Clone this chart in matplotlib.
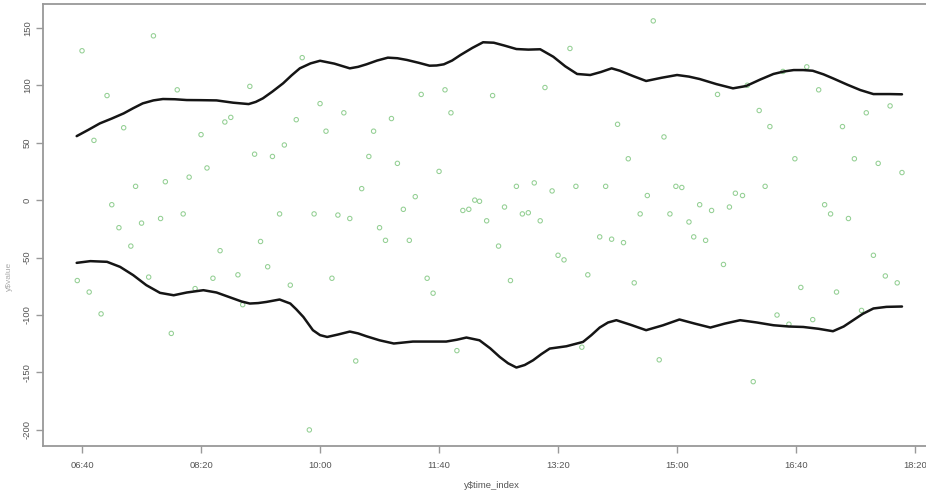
import matplotlib
matplotlib.use("Agg")
import matplotlib.pyplot as plt

# time in minutes since midnight, value
pt_time = [
    400, 460, 421, 480, 435, 410, 490, 470, 445, 425, 485, 466, 450, 431, 441, 456, 396, 406, 416, 475,
    585, 541, 600, 580, 525, 520, 605, 500, 570, 545, 560, 505, 566, 595, 550, 516, 556, 531, 510, 610,
    575, 495, 535, 591,
    705, 685, 620, 710, 660, 645, 641, 665, 700, 635, 680, 730, 734, 670, 720, 725, 615, 625, 650, 655,
    675, 690, 695, 715, 630,
    810, 789, 745, 850, 765, 780, 795, 815, 840, 755, 770, 775, 740, 785, 835, 845, 855, 750, 800, 805,
    825, 760, 820,
    880, 934, 969, 978, 889, 859, 899, 904, 875, 974, 949, 955, 919, 944, 929, 869, 894, 910, 914, 924,
    939, 864, 885, 964, 959,
    1009, 1019, 989, 1079, 1059, 1039, 999, 1049, 1069, 1089, 1024, 1029, 1044, 1065, 1075, 1085, 1004,
    1034, 984, 994, 1014, 1055,
]
pt_value = [
    130, 143, 91, 96, 63, 52, 20, 16, 12, -4, -12, -16, -20, -24, -40, -67, -70, -80, -99, -116,
    124, 99, 84, 70, 72, 68, 60, 57, 48, 40, 38, 28, -12, -12, -36, -44, -58, -65, -68, -68,
    -74, -77, -91, -200,
    96, 92, 76, 76, 71, 60, 38, 32, 25, 10, 3, 0, -1, -8, -9, -8, -13, -16, -24, -35,
    -35, -68, -81, -131, -140,
    132, 98, 91, 66, 12, 15, 8, 12, 12, -6, -12, -11, -18, -18, -32, -34, -37, -40, -48, -52,
    -65, -70, -128,
    156, 92, 78, 64, 55, 36, 12, 11, 4, 12, 6, 4, -4, -6, -9, -12, -12, -19, -32, -35,
    -56, -72, -139, -158, 100,
    116, 96, 112, 82, 76, 64, 36, 36, 32, 24, -4, -12, -16, -48, -66, -72, -76,
    -80, -100, -108, -104, -96,
]

# upper smooth band
up_time = [395.5, 405, 415, 425, 435, 443, 451, 460, 468, 478, 488, 500, 513, 527, 540, 546, 552,
           560, 569, 576, 583, 592, 600, 612, 625, 632, 639, 648, 657, 665, 673, 683, 692, 698,
           704, 711, 718, 728, 737, 746, 755, 765, 775, 785, 796, 806, 816, 827, 836, 845, 852,
           863, 874, 887, 900, 910, 919, 933, 947, 958, 970, 981, 990, 998, 1006, 1014, 1023,
           1031, 1043, 1054, 1065, 1079, 1089]
up_value = [55.7, 61, 66.8, 71, 75.5, 80, 84.2, 86.8, 88, 87.8, 87.1, 87, 86.8, 84.8, 83.6, 85.5,
            88.6, 94.5, 101.7, 108.5, 114.7, 119, 121.3, 118.8, 114.7, 116, 118.2, 121.5, 124,
            123.5, 122, 119.5, 117, 117.2, 118.2, 121.5, 126.3, 132.5, 137.4, 137, 134.5, 131.5,
            131, 131.3, 124.8, 116.5, 109.8, 108.9, 111.5, 114.7, 112.6, 108, 103.7, 106.5,
            108.9, 107.5, 105.4, 101, 97.3, 99.3, 105, 109.8, 112, 113.2, 113.2, 112.6, 109.5,
            106, 100.5, 95.8, 92.3, 92.3, 92.1]

# lower smooth band
lo_time = [395.5, 407, 421, 432, 443, 454, 465.5, 477, 488, 502, 513, 520, 527, 534, 541, 548, 555,
           566, 575, 580, 586, 594, 600, 606, 615, 625, 632, 639, 650, 662, 678, 692, 706, 715,
           723, 734, 743, 751, 758, 765, 772, 779, 786, 793, 807, 821, 828, 835, 842, 849, 861,
           874, 888, 902, 915, 928, 940, 953, 967, 981, 994, 1006, 1019, 1031, 1040, 1048, 1056,
           1065, 1076, 1089]
lo_value = [-54.6, -53.1, -53.7, -58.1, -65.3, -74, -80.7, -82.8, -80.4, -78.4, -80.4, -83, -85.6,
            -88.2, -90, -89.6, -88.6, -86.5, -90, -95, -101.7, -113.2, -117.5, -119.1, -117,
            -114.4, -116, -118.5, -122, -124.8, -123.1, -123.1, -123.1, -121.5, -119.6, -122,
            -129, -136.5, -142, -145.7, -143.5, -139.4, -134, -129.2, -127.2, -123.4, -117.5,
            -110.9, -106.5, -104.5, -108.5, -113.2, -109, -103.9, -107.5, -110.9, -107.5, -104.5,
            -106.5, -108.9, -110, -110.4, -112, -114.1, -110, -104.5, -99, -94.3, -92.9, -92.6]

x_ticks = [400, 500, 600, 700, 800, 900, 1000, 1100]
x_labels = ["%02d:%02d" % (m // 60, m % 60) for m in x_ticks]
y_ticks = [-200, -150, -100, -50, 0, 50, 100, 150]

plt.rcParams["font.family"] = ["Liberation Sans", "DejaVu Sans"]
fig = plt.figure(figsize=(9.26, 4.93), dpi=100)
ax = fig.add_axes([43 / 926, 47 / 493, 0.97, 442 / 493])

ax.scatter(pt_time, pt_value, s=10, facecolors="none", edgecolors="#93cf93", linewidths=0.75, zorder=2)
for tt, vv in [(up_time, up_value), (lo_time, lo_value)]:
    ax.plot(tt, vv, color="#151515", lw=1.8, zorder=3,
            solid_joinstyle="round", solid_capstyle="round")

ax.set_xlim(367.2, 367.2 + 0.97 * 926 * 0.8403)
ax.set_ylim(-214, 170.7)
ax.set_xticks(x_ticks)
ax.set_xticklabels(x_labels)
ax.set_yticks(y_ticks)
ax.set_yticklabels([str(v) for v in y_ticks], rotation=90, va="center")

for s in ["left", "bottom", "top"]:
    ax.spines[s].set_color("#999999")
    ax.spines[s].set_linewidth(1.3)
ax.spines["right"].set_visible(False)
ax.tick_params(colors="#999999", labelcolor="#555555", labelsize=6.8, length=5, width=1)
ax.tick_params(axis="x", pad=6)
ax.tick_params(axis="y", pad=3)

ax.set_xlabel("y$time_index", fontsize=6.8, color="#555555", labelpad=8)
fig.text(0.006, 0.44, "y$value", rotation=90, fontsize=6, color="#aaaaaa", va="center")

fig.savefig("out.png", dpi=100)
